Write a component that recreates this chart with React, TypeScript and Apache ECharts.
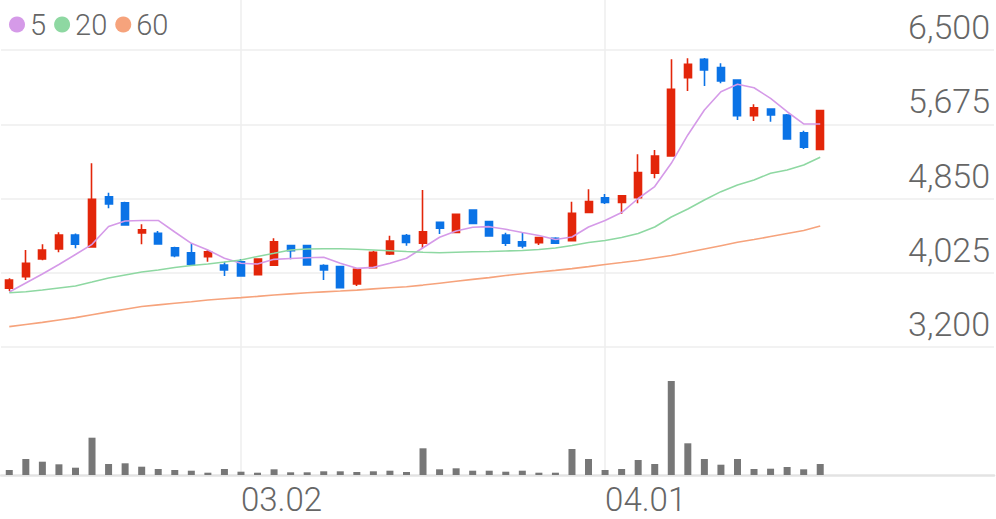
import React, { useEffect, useRef } from 'react';
import * as echarts from 'echarts';

const dates = [
  '02.05', '02.08', '02.09', '02.10', '02.15', '02.16', '02.17', '02.18', '02.19', '02.22',
  '02.23', '02.24', '02.25', '02.26', '03.02', '03.03', '03.04', '03.05', '03.08', '03.09',
  '03.10', '03.11', '03.12', '03.15', '03.16', '03.17', '03.18', '03.19', '03.22', '03.23',
  '03.24', '03.25', '03.26', '03.29', '03.30', '03.31', '04.01', '04.02', '04.05', '04.06',
  '04.07', '04.08', '04.09', '04.12', '04.13', '04.14', '04.15', '04.16', '04.19', '04.20',
  '04.21', '04.22', '04.23', '04.26', '04.27', '04.28', '04.29', '04.30', '05.03', '05.04',
];
const tickLabels = ['03.02', '04.01'];
const priceTicks = [3200, 4025, 4850, 5675, 6500];

const opens = [3852, 3981, 4178, 4289, 4445, 4311, 4870, 4803, 4467, 4463, 4303, 4248, 4204, 4111, 4148, 4004, 4108, 4326, 4326, 4104, 4093, 3900, 4081, 4233, 4437, 4352, 4585, 4474, 4722, 4593, 4445, 4370, 4359, 4408, 4381, 4696, 4859, 4807, 4859, 5130, 5322, 6193, 6396, 6304, 6167, 5770, 5844, 5778, 5581, 5396];
const closes = [3944, 4130, 4278, 4445, 4341, 4841, 4789, 4556, 4503, 4344, 4215, 4119, 4259, 4056, 3989, 4178, 4370, 4270, 4111, 4056, 3859, 4063, 4252, 4378, 4363, 4481, 4519, 4674, 4574, 4433, 4352, 4322, 4415, 4352, 4685, 4815, 4807, 4881, 5137, 5322, 6063, 6341, 6278, 6156, 5770, 5859, 5778, 5511, 5419, 5826];
const highs = [3963, 4278, 4341, 4474, 4460, 5241, 4915, 4815, 4563, 4489, 4315, 4352, 4278, 4148, 4178, 4185, 4408, 4335, 4335, 4119, 4100, 4070, 4270, 4437, 4456, 4944, 4590, 4680, 4730, 4600, 4470, 4470, 4425, 4420, 4815, 4952, 4900, 4890, 5341, 5389, 6396, 6408, 6410, 6352, 6175, 5897, 5850, 5790, 5604, 5837];
const lows = [3822, 3944, 4163, 4252, 4297, 4305, 4741, 4550, 4341, 4340, 4197, 4100, 4148, 3989, 3985, 4000, 4100, 4174, 4105, 3944, 3850, 3878, 4075, 4222, 4326, 4297, 4456, 4470, 4570, 4425, 4322, 4297, 4333, 4348, 4375, 4685, 4789, 4678, 4796, 5074, 5315, 6044, 6100, 6130, 5722, 5711, 5703, 5505, 5400, 5390];

const ma5 = [3811, 3911, 4011, 4117, 4228, 4341, 4539, 4600, 4606, 4606, 4478, 4352, 4278, 4186, 4130, 4122, 4174, 4183, 4192, 4197, 4130, 4074, 4085, 4130, 4186, 4303, 4419, 4489, 4530, 4537, 4508, 4472, 4439, 4394, 4422, 4533, 4606, 4694, 4850, 4983, 5241, 5556, 5833, 6037, 6119, 6081, 5963, 5814, 5678, 5678];
const ma20 = [3803, 3814, 3833, 3856, 3878, 3922, 3967, 4000, 4033, 4056, 4083, 4106, 4122, 4144, 4167, 4206, 4241, 4278, 4289, 4291, 4292, 4286, 4278, 4270, 4261, 4253, 4248, 4253, 4258, 4261, 4267, 4272, 4283, 4300, 4328, 4361, 4383, 4417, 4461, 4533, 4644, 4733, 4833, 4926, 5000, 5056, 5130, 5167, 5222, 5308];
const ma60 = [3426, 3450, 3474, 3500, 3526, 3559, 3590, 3620, 3650, 3668, 3686, 3703, 3722, 3736, 3749, 3763, 3778, 3790, 3802, 3813, 3822, 3832, 3846, 3858, 3870, 3888, 3909, 3930, 3951, 3971, 3994, 4014, 4033, 4051, 4071, 4093, 4116, 4138, 4161, 4189, 4217, 4252, 4289, 4326, 4363, 4394, 4428, 4461, 4494, 4544];

const volumes = [50000, 160000, 133000, 107000, 73000, 373000, 110000, 117000, 83000, 60000, 50000, 43000, 23000, 60000, 33000, 23000, 57000, 27000, 27000, 37000, 37000, 30000, 37000, 43000, 30000, 267000, 57000, 67000, 43000, 43000, 33000, 43000, 23000, 23000, 260000, 160000, 50000, 60000, 150000, 110000, 940000, 317000, 160000, 103000, 160000, 60000, 63000, 80000, 57000, 110000];

const FONT = 'Roboto';
const TEXT = '#666666';
const GRIDLINE = '#eeeeee';
const UP = '#e3260a';
const DOWN = '#0b73e6';

export default function App() {
  const ref = useRef<HTMLDivElement>(null);
  useEffect(() => {
    const chart = echarts.init(ref.current as HTMLDivElement, null, { renderer: 'svg' });
    const candles = opens.map((o, i) => [o, closes[i], lows[i], highs[i]]);
    const N = dates.length;
    const left = 1;
    const width = 993;
    const band = width / N;
    const isTick = (_i: number, v: string) => tickLabels.indexOf(v) >= 0;

    chart.setOption({
      animation: false,
      backgroundColor: '#ffffff',
      legend: {
        data: ['5', '20', '60'],
        left: 4,
        top: 5,
        icon: 'circle',
        itemWidth: 16,
        itemHeight: 16,
        itemGap: 8,
        selectedMode: false,
        textStyle: { fontSize: 29, color: TEXT, fontFamily: FONT, fontWeight: 300 },
      },
      grid: [
        { left, width, top: 50, height: 297 },
        { left, width, top: 347, height: 128 },
        { left: left + band / 2, width: band * (N - 1), top: 0, height: 475 },
      ],
      xAxis: [
        {
          type: 'category', gridIndex: 0, data: dates,
          axisLine: { show: false }, axisTick: { show: false }, axisLabel: { show: false }, splitLine: { show: false },
        },
        {
          type: 'category', gridIndex: 1, data: dates,
          axisLine: { show: true, lineStyle: { color: '#e3e3e3', width: 2.5 } },
          axisTick: { show: false },
          splitLine: { show: false },
          axisLabel: {
            interval: isTick,
            align: 'left',
            margin: 10,
            fontSize: 33,
            lineHeight: 28,
            color: TEXT,
            fontFamily: FONT,
            fontWeight: 300,
          },
        },
        {
          type: 'category', gridIndex: 2, data: dates, boundaryGap: false,
          axisLine: { show: false }, axisTick: { show: false }, axisLabel: { show: false },
          splitLine: { show: true, interval: isTick, lineStyle: { color: GRIDLINE, width: 1.5 } },
        },
      ],
      yAxis: [
        {
          type: 'value', gridIndex: 0, position: 'right',
          min: priceTicks[0], max: priceTicks[priceTicks.length - 1], interval: priceTicks[1] - priceTicks[0],
          axisLine: { show: false }, axisTick: { show: false },
          splitLine: { show: true, lineStyle: { color: GRIDLINE, width: 1.5 } },
          axisLabel: {
            inside: true,
            margin: 4,
            fontSize: 34,
            lineHeight: 46,
            verticalAlign: 'bottom',
            color: TEXT,
            fontFamily: FONT,
            fontWeight: 300,
            formatter: (v: number) => v.toLocaleString('en-US'),
          },
        },
        {
          type: 'value', gridIndex: 1, min: 0, max: 1280000,
          axisLine: { show: false }, axisTick: { show: false }, axisLabel: { show: false }, splitLine: { show: false },
        },
        { type: 'value', gridIndex: 2, min: 0, max: 1, show: false },
      ],
      series: [
        {
          name: '5', type: 'line', xAxisIndex: 0, yAxisIndex: 0, data: ma5,
          symbol: 'none', color: '#d59ae8', lineStyle: { width: 1.6, color: '#d59ae8' },
        },
        {
          name: '20', type: 'line', xAxisIndex: 0, yAxisIndex: 0, data: ma20,
          symbol: 'none', color: '#8ed8a2', lineStyle: { width: 1.6, color: '#8ed8a2' },
        },
        {
          name: '60', type: 'line', xAxisIndex: 0, yAxisIndex: 0, data: ma60,
          symbol: 'none', color: '#f6a37c', lineStyle: { width: 1.6, color: '#f6a37c' },
        },
        {
          name: 'price', type: 'candlestick', xAxisIndex: 0, yAxisIndex: 0, data: candles,
          barWidth: 7.5,
          itemStyle: { color: UP, color0: DOWN, borderColor: UP, borderColor0: DOWN, borderWidth: 1.6 },
        },
        {
          name: 'volume', type: 'bar', xAxisIndex: 1, yAxisIndex: 1, data: volumes,
          barWidth: 7, itemStyle: { color: '#777777' },
        },
      ],
    });
    return () => chart.dispose();
  }, []);
  return <div ref={ref} style={{ position: 'absolute', left: 0, top: 0, width: 996, height: 519 }} />;
}
